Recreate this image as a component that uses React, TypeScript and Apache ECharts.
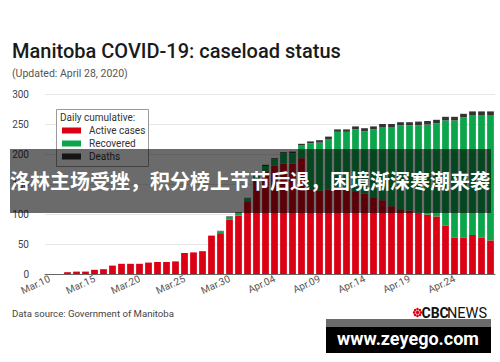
import React, { useEffect, useRef } from 'react';
import * as echarts from 'echarts';

const categories = [
  'Mar.10', 'Mar.11', 'Mar.12', 'Mar.13', 'Mar.14', 'Mar.15', 'Mar.16', 'Mar.17', 'Mar.18', 'Mar.19',
  'Mar.20', 'Mar.21', 'Mar.22', 'Mar.23', 'Mar.24', 'Mar.25', 'Mar.26', 'Mar.27', 'Mar.28', 'Mar.29',
  'Mar.30', 'Mar.31', 'Apr.01', 'Apr.02', 'Apr.03', 'Apr.04', 'Apr.05', 'Apr.06', 'Apr.07', 'Apr.08',
  'Apr.09', 'Apr.10', 'Apr.11', 'Apr.12', 'Apr.13', 'Apr.14', 'Apr.15', 'Apr.16', 'Apr.17', 'Apr.18',
  'Apr.19', 'Apr.20', 'Apr.21', 'Apr.22', 'Apr.23', 'Apr.24', 'Apr.25', 'Apr.26', 'Apr.27', 'Apr.28',
];

const activeCases = [
  0, 0, 3, 4, 4, 7, 8, 14, 17, 17,
  17, 19, 20, 20, 21, 35, 36, 38, 64, 68,
  91, 97, 120, 158, 170, 181, 184, 184, 193, 140,
  139, 141, 142, 140, 138, 134, 128, 123, 113, 108,
  106, 102, 99, 96, 81, 61, 61, 65, 61, 56,
];

const recovered = [
  0, 0, 0, 0, 0, 0, 0, 0, 0, 0,
  0, 0, 0, 0, 0, 0, 0, 0, 0, 3,
  4, 5, 6, 8, 10, 10, 17, 17, 21, 78,
  80, 84, 95, 97, 103, 104, 113, 122, 132, 140,
  142, 146, 150, 155, 175, 195, 200, 200, 204, 209,
];

const deaths = [
  0, 0, 0, 0, 0, 0, 0, 0, 0, 0,
  0, 0, 0, 0, 0, 0, 0, 0, 0, 1,
  1, 1, 1, 1, 2, 2, 2, 3, 3, 3,
  4, 4, 4, 4, 5, 5, 5, 5, 5, 5,
  5, 6, 6, 6, 6, 6, 6, 6, 6, 6,
];

const seriesNames = ['Active cases', 'Recovered', 'Deaths'];
const seriesColors = ['#dc0014', '#0ba64b', '#333333'];

const FONT = 'Roboto, "Noto Sans", sans-serif';

export default function App() {
  const ref = useRef<HTMLDivElement>(null);

  useEffect(() => {
    if (!ref.current) return;
    const chart = echarts.init(ref.current, undefined, { renderer: 'svg' });

    const gem: any[] = [];
    const cx = 417.5;
    const cy = 312.5;
    gem.push({ type: 'circle', shape: { cx, cy, r: 1.7 }, style: { fill: '#e60012' }, z: 60 });
    for (let k = 0; k < 8; k++) {
      const a = (Math.PI / 4) * k;
      gem.push({
        type: 'circle',
        shape: { cx: cx + Math.cos(a) * 3.4, cy: cy + Math.sin(a) * 3.4, r: 1.3 },
        style: { fill: '#e60012' },
        z: 60,
      });
    }

    chart.setOption({
      animation: false,
      backgroundColor: '#ffffff',
      textStyle: { fontFamily: FONT },
      grid: { left: 45, right: 5, top: 94, bottom: 88 },
      legend: {
        data: seriesNames,
        orient: 'vertical',
        left: 56,
        top: 109,
        padding: [15, 4, 3, 6],
        itemWidth: 19,
        itemHeight: 6,
        itemGap: 0,
        icon: 'rect',
        textStyle: { fontSize: 10, color: '#333', lineHeight: 13, fontFamily: FONT, padding: [0, 0, 0, 3] },
        z: 4,
      },
      xAxis: {
        type: 'category',
        data: categories,
        axisLine: { lineStyle: { color: '#666', width: 1 } },
        axisTick: { show: false },
        axisLabel: {
          interval: 4,
          rotate: 25,
          margin: 4,
          fontSize: 10,
          color: '#555',
          fontFamily: FONT,
        },
      },
      yAxis: {
        type: 'value',
        min: 0,
        max: 300,
        interval: 50,
        axisLine: { show: false },
        axisTick: { show: false },
        axisLabel: { fontSize: 10, color: '#444', margin: 16, fontFamily: FONT },
        splitLine: { lineStyle: { color: '#e6e6e6', width: 1 } },
      },
      series: [
        {
          name: seriesNames[0],
          type: 'bar',
          stack: 'total',
          data: activeCases,
          itemStyle: { color: seriesColors[0] },
          barCategoryGap: '25%',
        },
        {
          name: seriesNames[1],
          type: 'bar',
          stack: 'total',
          data: recovered,
          itemStyle: { color: seriesColors[1] },
        },
        {
          name: seriesNames[2],
          type: 'bar',
          stack: 'total',
          data: deaths,
          itemStyle: { color: seriesColors[2] },
        },
      ],
      graphic: [
        {
          type: 'text',
          x: 12,
          y: 51,
          style: {
            text: 'Manitoba COVID-19: caseload status',
            fontSize: 20,
            fontWeight: 500,
            fill: '#1a1a1a',
            fontFamily: FONT,
            verticalAlign: 'middle',
          },
        },
        {
          type: 'text',
          x: 12,
          y: 73,
          style: {
            text: '(Updated: April 28, 2020)',
            fontSize: 10.5,
            fill: '#555',
            fontFamily: FONT,
            verticalAlign: 'middle',
          },
        },
        {
          type: 'rect',
          shape: { x: 56.5, y: 109.5, width: 92, height: 57 },
          style: { fill: '#fff', stroke: '#9a9a9a', lineWidth: 1 },
          z: 3,
        },
        {
          type: 'text',
          x: 60,
          y: 117.5,
          style: {
            text: 'Daily cumulative:',
            fontSize: 10,
            fill: '#333',
            fontFamily: FONT,
            verticalAlign: 'middle',
          },
          z: 5,
        },
        {
          type: 'rect',
          shape: { x: 10, y: 149, width: 481, height: 64 },
          style: { fill: 'rgba(0,0,0,0.58)' },
          z: 50,
        },
        {
          type: 'text',
          x: 250,
          y: 180,
          style: {
            text: '洛林主场受挫，积分榜上节节后退，困境渐深寒潮来袭',
            fontSize: 20,
            fontWeight: 'bold',
            fill: '#ffffff',
            fontFamily: '"Noto Sans CJK SC", sans-serif',
            align: 'center',
            verticalAlign: 'middle',
          },
          z: 51,
        },
        {
          type: 'text',
          x: 12,
          y: 313,
          style: {
            text: 'Data source: Government of Manitoba',
            fontSize: 9.6,
            fill: '#444',
            fontFamily: FONT,
            verticalAlign: 'middle',
          },
        },
        ...gem,
        {
          type: 'text',
          x: 421.5,
          y: 313,
          style: {
            text: 'CBC',
            fontSize: 14,
            fontWeight: 'bold',
            fill: '#111',
            fontFamily: FONT,
            verticalAlign: 'middle',
          },
          z: 60,
        },
        {
          type: 'text',
          x: 447,
          y: 313,
          style: {
            text: 'NEWS',
            fontSize: 14.5,
            fill: '#111',
            fontFamily: FONT,
            verticalAlign: 'middle',
          },
          z: 60,
        },
        {
          type: 'rect',
          shape: { x: 326, y: 319, width: 165, height: 8 },
          style: { fill: '#6b6b6b' },
          z: 60,
        },
        {
          type: 'rect',
          shape: { x: 326, y: 327, width: 165, height: 26 },
          style: { fill: '#000' },
          z: 60,
        },
        {
          type: 'text',
          x: 408,
          y: 338,
          style: {
            text: 'www.zeyego.com',
            fontSize: 18,
            fontWeight: 'bold',
            fill: '#fff',
            fontFamily: FONT,
            align: 'center',
            verticalAlign: 'middle',
          },
          z: 61,
        },
      ],
    });

    return () => chart.dispose();
  }, []);

  return (
    <div
      ref={ref}
      style={{ position: 'fixed', left: 0, top: 0, width: 500, height: 362 }}
    />
  );
}
